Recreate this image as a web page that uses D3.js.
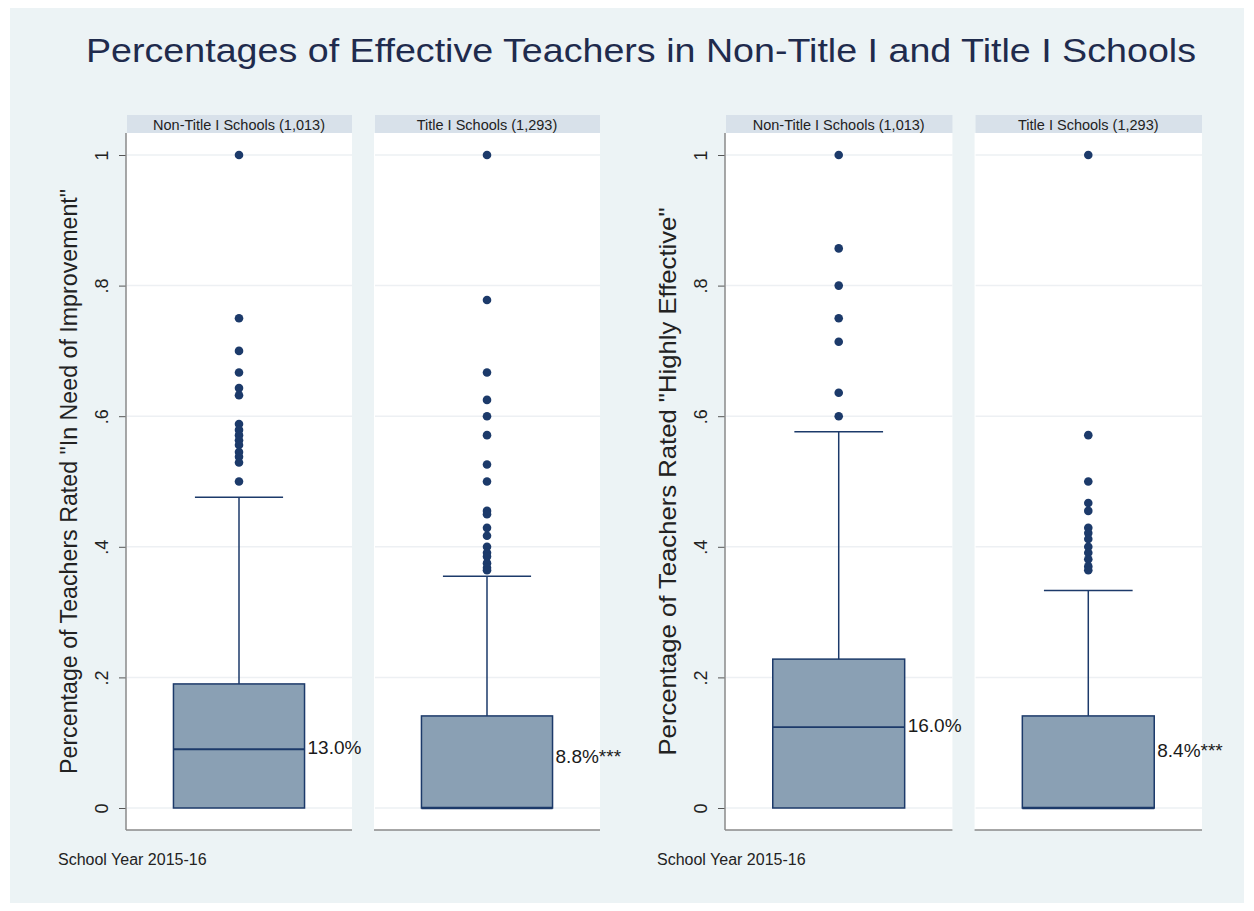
<!DOCTYPE html>
<html>
<head>
<meta charset="utf-8">
<script src="https://cdn.jsdelivr.net/npm/d3@7"></script>
<style>
  html, body { margin: 0; padding: 0; background: #ffffff; }
  svg { display: block; font-family: "Liberation Sans", Arial, sans-serif; }
</style>
</head>
<body>
<svg id="chart" width="1254" height="911"></svg>
<script>
// ---------------- data ----------------
const title = "Percentages of Effective Teachers in Non-Title I and Title I Schools";
const panels = ["Non-Title I Schools (1,013)", "Title I Schools (1,293)"];
const axisTitles = ["Percentage of Teachers Rated \"In Need of Improvement\"",
                    "Percentage of Teachers Rated \"Highly Effective\""];
const xNote = "School Year 2015-16";
const yTicks = [0, 0.2, 0.4, 0.6, 0.8, 1];
const yTickLabels = ["0", ".2", ".4", ".6", ".8", "1"];

// box statistics, order: [NeedImp-NonTitle, NeedImp-Title, HighEff-NonTitle, HighEff-Title]
const q1 = [0, 0, 0, 0];
const medians = [0.090, 0, 0.124, 0];
const q3 = [0.190, 0.141, 0.228, 0.141];
const whiskerLo = [0, 0, 0, 0];
const whiskerHi = [0.476, 0.355, 0.576, 0.333];
const outliers1 = [1.0, 0.75, 0.70, 0.667, 0.643, 0.632, 0.588, 0.579, 0.571, 0.563, 0.556, 0.545, 0.538, 0.529, 0.5];
const outliers2 = [1.0, 0.778, 0.667, 0.625, 0.6, 0.571, 0.526, 0.5, 0.455, 0.45, 0.429, 0.417, 0.4, 0.391, 0.385, 0.375, 0.368, 0.364];
const outliers3 = [1.0, 0.857, 0.8, 0.75, 0.714, 0.636, 0.6];
const outliers4 = [1.0, 0.571, 0.5, 0.467, 0.455, 0.429, 0.421, 0.412, 0.4, 0.391, 0.381, 0.370, 0.364];
const outliers = [outliers1, outliers2, outliers3, outliers4];
const meanLabels = ["13.0%", "8.8%***", "16.0%", "8.4%***"];
const labelAt = [0.090, 0.077, 0.124, 0.086];

// ---------------- style / layout ----------------
const W = 1254, H = 911;
const bgOuter = "#ffffff", bgInner = "#ecf3f5";
const stripFill = "#d8e1ea";
const boxFill = "#8aa0b4", navy = "#1c3a6a";
const gridColor = "#edf0f3", axisColor = "#8a8a8a";
const axisTitleLen = [585, 548];

const svg = d3.select("#chart");
svg.append("rect").attr("width", W).attr("height", H).attr("fill", bgOuter);
svg.append("rect").attr("x", 10).attr("y", 8).attr("width", W - 20).attr("height", H - 16).attr("fill", bgInner);

svg.append("text")
  .attr("x", 641).attr("y", 62)
  .attr("text-anchor", "middle")
  .attr("font-size", 34)
  .attr("textLength", 1110)
  .attr("lengthAdjust", "spacingAndGlyphs")
  .attr("fill", "#1f2b4d")
  .text(title);

const y = d3.scaleLinear().domain([0, 1]).range([808, 155]);
const plotTop = 133, plotBottom = 830;

const chartRanges = [[126, 600], [725, 1202]];

chartRanges.forEach((rng, ci) => {
  const x = d3.scaleBand().domain(panels).range(rng).paddingInner(0.0887);
  const g = svg.append("g");

  // panels
  panels.forEach((p, pi) => {
    const idx = ci * 2 + pi;
    const x0 = x(p), bw = x.bandwidth();
    const pg = g.append("g");
    // strip header
    pg.append("rect").attr("x", x0 + 1).attr("y", 115).attr("width", bw - 1).attr("height", 18).attr("fill", stripFill);
    pg.append("text").attr("x", x0 + bw / 2).attr("y", 129.5)
      .attr("text-anchor", "middle").attr("font-size", 14.5).attr("fill", "#222").text(p);
    // plot area
    pg.append("rect").attr("x", x0).attr("y", plotTop).attr("width", bw).attr("height", plotBottom - plotTop).attr("fill", "#ffffff");
    // grid
    pg.selectAll("line.grid").data(yTicks).enter().append("line")
      .attr("x1", x0 + 1).attr("x2", x0 + bw)
      .attr("y1", d => y(d)).attr("y2", d => y(d))
      .attr("stroke", gridColor).attr("stroke-width", 1.5);
    // bottom axis line
    pg.append("line").attr("x1", x0).attr("x2", x0 + bw).attr("y1", plotBottom).attr("y2", plotBottom)
      .attr("stroke", axisColor).attr("stroke-width", 1.5);

    const cx = x0 + bw / 2;
    const boxW = bw * 0.58;
    const capW = bw * 0.39;
    // whisker
    pg.append("line").attr("x1", cx).attr("x2", cx).attr("y1", y(q3[idx])).attr("y2", y(whiskerHi[idx]))
      .attr("stroke", navy).attr("stroke-width", 1.5);
    pg.append("line").attr("x1", cx - capW / 2).attr("x2", cx + capW / 2)
      .attr("y1", y(whiskerHi[idx])).attr("y2", y(whiskerHi[idx]))
      .attr("stroke", navy).attr("stroke-width", 1.5);
    if (whiskerLo[idx] < q1[idx]) {
      pg.append("line").attr("x1", cx).attr("x2", cx).attr("y1", y(q1[idx])).attr("y2", y(whiskerLo[idx]))
        .attr("stroke", navy).attr("stroke-width", 1.5);
    }
    // box
    pg.append("rect").attr("x", cx - boxW / 2).attr("y", y(q3[idx]))
      .attr("width", boxW).attr("height", y(q1[idx]) - y(q3[idx]))
      .attr("fill", boxFill).attr("stroke", navy).attr("stroke-width", 1.5);
    // median
    pg.append("line").attr("x1", cx - boxW / 2).attr("x2", cx + boxW / 2)
      .attr("y1", y(medians[idx])).attr("y2", y(medians[idx]))
      .attr("stroke", navy).attr("stroke-width", medians[idx] === q1[idx] ? 2.5 : 1.8);
    // outliers
    pg.selectAll("circle").data(outliers[idx]).enter().append("circle")
      .attr("cx", cx).attr("cy", d => y(d)).attr("r", 4.3).attr("fill", navy);
    // label
    pg.append("text").attr("x", cx + boxW / 2 + 3).attr("y", y(labelAt[idx]))
      .attr("dominant-baseline", "middle").attr("font-size", 19).attr("fill", "#1a1a1a")
      .text(meanLabels[idx]);
  });

  // y axis
  const ax = rng[0];
  const yAxis = d3.axisLeft(y).tickValues(yTicks).tickSize(7).tickFormat((d, i) => yTickLabels[i]);
  const ag = g.append("g").attr("transform", `translate(${ax},0)`).call(yAxis);
  ag.select(".domain").remove();
  ag.selectAll(".tick line").attr("stroke", "#555").attr("stroke-width", 1);
  ag.selectAll(".tick text")
    .attr("font-size", 18).attr("fill", "#222").attr("font-family", "Liberation Sans, Arial, sans-serif")
    .attr("text-anchor", "middle").attr("dy", null).attr("x", null)
    .attr("transform", "translate(-23,0) rotate(-90)")
    .attr("dominant-baseline", "middle");
  g.append("line").attr("x1", ax).attr("x2", ax).attr("y1", plotTop).attr("y2", plotBottom)
    .attr("stroke", axisColor).attr("stroke-width", 1.5);

  // axis title
  g.append("text")
    .attr("transform", `translate(${ax - 49},${y(0.5)}) rotate(-90)`)
    .attr("text-anchor", "middle").attr("font-size", ci === 0 ? 23 : 24).attr("fill", "#222")
    .attr("textLength", axisTitleLen[ci]).attr("lengthAdjust", "spacingAndGlyphs")
    .text(axisTitles[ci]);

  // note
  g.append("text").attr("x", ax - 68).attr("y", 865)
    .attr("font-size", 16).attr("fill", "#222").text(xNote);
});
</script>
</body>
</html>
